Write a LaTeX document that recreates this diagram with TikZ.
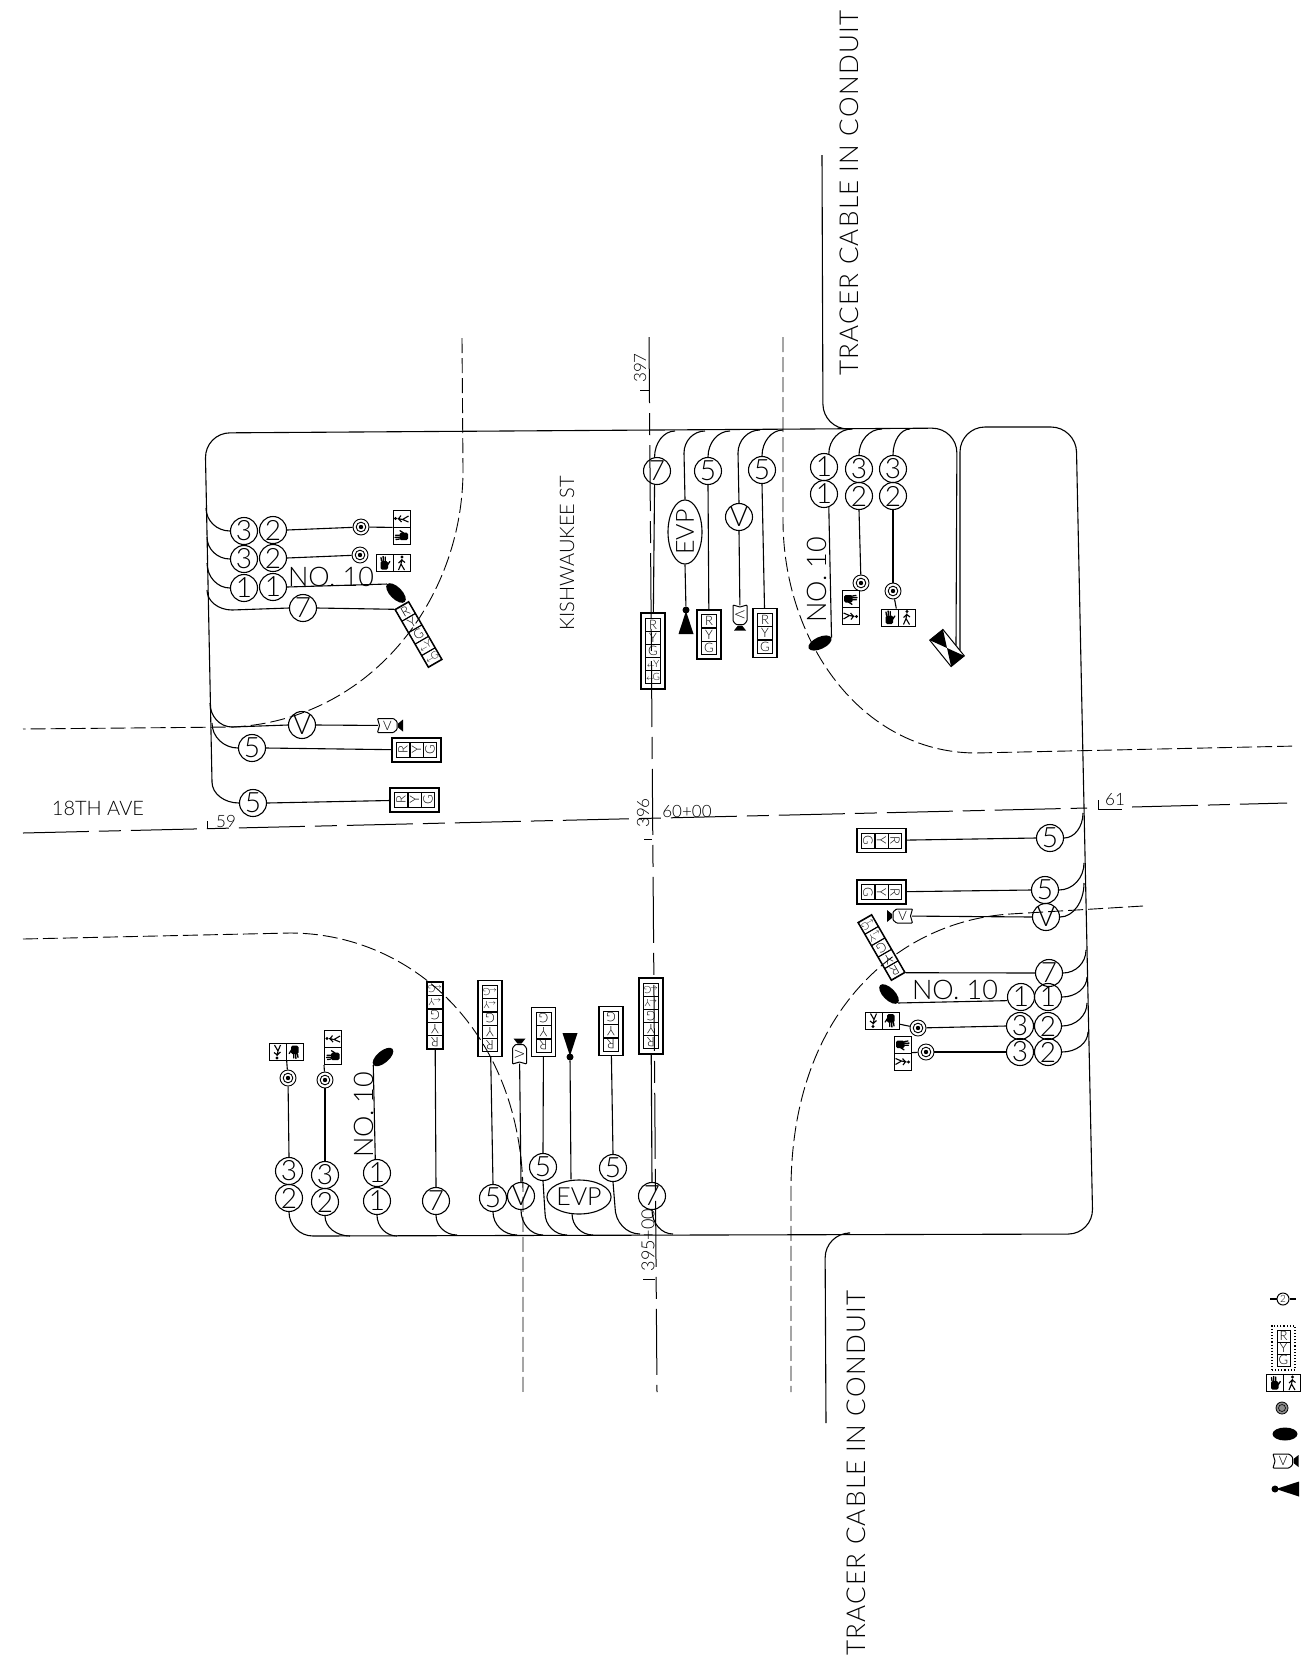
\documentclass[tikz,border=0pt]{standalone}
\usepackage{fontspec}
\setmainfont{Lato}[UprightFont=* Light]
\newfontfamily\widefont{Lato}[UprightFont=* Light,LetterSpace=5]
\usetikzlibrary{calc,shapes.geometric}
\newcommand\fsz[1]{\fontsize{#1}{#1}\selectfont}
\tikzset{
  wire/.style={draw=black,line width=1.1pt},
  roadedge/.style={draw=black,line width=.9pt,dash pattern=on 15pt off 5pt},
  centerline/.style={draw=black,line width=1pt,dash pattern=on 66pt off 10pt on 22pt off 10pt},
  num/.style={circle,draw=black,line width=1.1pt,minimum size=27pt,inner sep=0pt,font=\fsz{28}},
  evp/.style={ellipse,draw=black,line width=1.1pt,minimum width=58pt,minimum height=34pt,inner sep=0pt,font=\fsz{25}},
  lamp/.style={ellipse,fill=black,minimum width=25pt,minimum height=12pt,inner sep=0pt},
  sigouter/.style={rectangle,draw=black,line width=1.1pt,inner sep=0pt},
  cellbox/.style={rectangle,draw=black,line width=.9pt,inner sep=0pt,minimum width=15pt,minimum height=13pt,font=\fsz{13}},
  cellsmall/.style={cellbox,font=\fsz{10}},
  tgtring/.style={circle,draw=black,line width=.9pt,minimum size=16pt,inner sep=0pt},
  evpdot/.style={circle,fill=black,minimum size=7pt,inner sep=0pt},
  cambody/.style={rectangle,minimum width=19pt,minimum height=14pt,inner sep=0pt,font=\fsz{13}},
  pedframe/.style={rectangle,draw=black,line width=1pt,minimum width=34pt,minimum height=17pt,inner sep=0pt},
  lbl/.style={inner sep=0pt,text=black},
}
\newcommand\wireHV[2]{\draw[wire] (#1) .. controls ($(#1)!0.55!(#1 -| #2)$) and ($(#2)!0.55!(#1 -| #2)$) .. (#2);}
\newcommand\wireVH[2]{\draw[wire] (#1) .. controls ($(#1)!0.55!(#1 |- #2)$) and ($(#2)!0.55!(#1 |- #2)$) .. (#2);}
% 3-aspect head in a double frame
\newcommand\sigthree[4]{\begin{scope}[shift={(#2,#3)},rotate=#4,transform shape]
  \node[sigouter,minimum width=24pt,minimum height=49pt] (#1) at (0,0) {};
  \node[cellbox] (#1r) at (0,-13.5) {R};
  \node[cellbox] (#1y) at (0,0) {Y};
  \node[cellbox] (#1g) at (0,13.5) {G};
\end{scope}}
% 5-aspect head; #5 = outer width, #6 = outer height
\newcommand\sigfive[6]{\begin{scope}[shift={(#2,#3)},rotate=#4,transform shape]
  \node[sigouter,minimum width=#5pt,minimum height=#6pt] (#1) at (0,0) {};
  \node[cellbox] (#1r) at (0,-26.4) {R};
  \node[cellbox] (#1y) at (0,-13.2) {Y};
  \node[cellbox] (#1g) at (0,0) {G};
  \node[cellsmall] (#1ly) at (0,13.2) {$\scriptstyle\leftarrow$\kern-1.5pt Y};
  \node[cellsmall] (#1lg) at (0,26.4) {$\scriptstyle\leftarrow$\kern-1.5pt G};
\end{scope}}
\newcommand\pedbox[4]{\begin{scope}[shift={(#2,#3)},rotate=#4,transform shape]
  \node[pedframe] (#1) at (0,0) {};
  \draw[line width=1pt] (0,-8.5) -- (0,8.5);
  \fill[rounded corners=1.5pt] (-12.5,-2) rectangle (-5,6.5);
  \draw[line width=1.3pt,line cap=round] (-11.5,-2) -- (-12,-5.5) (-9.7,-2) -- (-9.9,-6.5) (-7.7,-2) -- (-7.7,-6) (-5.5,2) -- (-3.2,-1.5);
  \fill (9,-6) circle (1.6);
  \draw[line width=1.1pt] (9,-4) -- (8,1) -- (5.5,7) (8,1) -- (11.5,7) (5.5,0) -- (8.7,-3) -- (12,-.5);
\end{scope}}
\newcommand\camicon[4]{\begin{scope}[shift={(#2,#3)},#4,transform shape]
  \node[cambody] (#1) at (0,0) {V};
  \draw[line width=1pt,rounded corners=.8pt] (-10,-7) -- (6,-7) -- (9.5,-4) -- (9.5,4) -- (6,7) -- (-10,7) -- (-8,0) -- cycle;
  \fill (10.5,-2) -- (15.5,-6) -- (15.5,6) -- (10.5,2) -- cycle;
\end{scope}}
\newcommand\evpicon[4]{\begin{scope}[shift={(#2,#3)},rotate=#4,transform shape]
  \node[evpdot] (#1) at (0,0) {};
  \fill (1,0) -- (24,-7.5) -- (24,7.5) -- cycle;
\end{scope}}
\newcommand\tgt[3]{\node[tgtring] (#1) at (#2,#3) {};
  \draw[line width=.9pt] (#1) circle (4.8);
  \fill (#1) circle (2.2);}
\newcommand\tap[3]{\coordinate (#1) at (#2,#3);}
\begin{document}
\begin{tikzpicture}[x=1pt,y=-1pt]
\path[use as bounding box] (0,0) rectangle (1306,1668);

% road edges
\draw[roadedge] (462,338) -- (463,470) .. controls (463,600) and (370,720) .. (233,727) -- (23,729);
\draw[roadedge] (783,337) -- (783,520) .. controls (783,640) and (860,752) .. (975,753) -- (1297,746);
\draw[roadedge] (23,939) -- (290,933) .. controls (410,933) and (520,1030) .. (523,1190) -- (523,1392);
\draw[roadedge] (1143,906) -- (1010,914) .. controls (900,921) and (791,1010) .. (791,1190) -- (791,1392);
% centre lines
\draw[centerline] (23,833) -- (1087,808);
\draw[centerline] (1132,807) -- (1287,803);
\draw[centerline] (649,337) -- (657,1392);
\draw[line width=.8pt] (207,829) -- (207,821);
\draw[line width=.8pt] (640,390) -- (649,390);
\draw[line width=.8pt] (644,839) -- (652,839);
\draw[line width=.8pt] (643,1279) -- (655,1279);
\draw[line width=.8pt] (1098,800) -- (1098,809) -- (1122,809);

% labels
\node[lbl,font=\fsz{20}] (lave) at (98,808) {18TH AVE};
\node[lbl,font=\fsz{17}] (l59) at (226,821) {59};
\node[lbl,font=\fsz{17}] (l6000) at (687,811) {60+00};
\node[lbl,font=\fsz{17}] (l61) at (1115,800) {61};
\node[lbl,font=\fsz{17},rotate=90] (l396) at (643,813) {396};
\node[lbl,font=\fsz{17},rotate=90] (l397) at (640,368) {397};
\node[lbl,font=\fsz{18},rotate=90] (l395) at (648,1240) {395+00};
\node[lbl,font=\fsz{20},rotate=90] (lkish) at (567,553) {KISHWAUKEE ST};
\node[lbl,font=\widefont\fsz{26},rotate=90] (ltr1) at (849,193) {TRACER CABLE IN CONDUIT};
\node[lbl,font=\widefont\fsz{26},rotate=90] (ltr2) at (856,1473) {TRACER CABLE IN CONDUIT};
\node[lbl,font=\fsz{27}] (ln1) at (331,577) {NO. 10};
\node[lbl,font=\fsz{27},rotate=90] (ln2) at (817,580) {NO. 10};
\node[lbl,font=\fsz{27}] (ln3) at (955,990) {NO. 10};
\node[lbl,font=\fsz{27},rotate=90] (ln4) at (364,1115) {NO. 10};

% ---------- top-left corner
\node[num] (tl3a) at (244,531) {3}; \node[num] (tl2a) at (273,530) {2};
\node[num] (tl3b) at (244,559) {3}; \node[num] (tl2b) at (273,558) {2};
\node[num] (tl1a) at (244,588) {1}; \node[num] (tl1b) at (273,587) {1};
\node[num] (tl7) at (303,608) {7};
\node[num] (tlV) at (302,725) {V};
\node[num] (tl5a) at (252,748) {5};
\node[num] (tl5b) at (253,803) {5};
\tgt{tlT1}{361}{527}
\tgt{tlT2}{360}{555}
\pedbox{tlP1}{401.5}{527.5}{90}
\pedbox{tlP2}{393}{563}{0}
\node[lamp,rotate=-45] (tlE) at (396,593) {};
\sigfive{tlS7}{418.5}{634.5}{30}{16}{67}
\camicon{tlC}{387.5}{725.5}{rotate=0}
\sigthree{tlS5a}{416.5}{750}{90}
\sigthree{tlS5b}{414.5}{800}{90}

% ---------- top-right corner
\node[num] (tr7) at (657,471) {7};
\node[evp,rotate=90] (trEVP) at (685,532) {EVP};
\node[num] (tr5a) at (708,471) {5};
\node[num] (trV) at (739,517) {V};
\node[num] (tr5b) at (762,470) {5};
\node[num] (tr1a) at (824,467) {1}; \node[num] (tr1b) at (824,494) {1};
\node[num] (tr3a) at (859,469) {3}; \node[num] (tr2a) at (859,496) {2};
\node[num] (tr3b) at (893,469) {3}; \node[num] (tr2b) at (893,496) {2};
\sigfive{trS7}{653}{651}{0}{24}{76}
\evpicon{trD}{686}{610}{-90}
\sigthree{trS5a}{709}{634.5}{0}
\camicon{trC}{740}{615}{rotate=-90}
\sigthree{trS5b}{765}{633}{0}
\node[lamp,rotate=25] (trE) at (820,643) {};
\tgt{trT1}{861}{583}
\tgt{trT2}{893}{591}
\pedbox{trP1}{850.5}{607.5}{-90}
\pedbox{trP2}{898}{617.5}{0}

% cable box
\begin{scope}[shift={(947,648)},rotate=39,transform shape]
  \node[rectangle,draw=black,line width=1pt,minimum width=17pt,minimum height=34pt,inner sep=0pt] (cab) at (0,0) {};
  \fill (-8.5,-17) -- (8.5,-17) -- (0,0) -- (8.5,17) -- (-8.5,17) -- (0,0) -- cycle;
\end{scope}

% ---------- bottom-right corner
\node[num] (br5a) at (1050,838) {5};
\node[num] (br5b) at (1045,890) {5};
\node[num] (brV) at (1046,917) {V};
\node[num] (br7) at (1049,973) {7};
\node[num] (br1a) at (1021,997) {1}; \node[num] (br1b) at (1048,997) {1};
\node[num] (br3a) at (1020,1026) {3}; \node[num] (br2a) at (1048,1026) {2};
\node[num] (br3b) at (1020,1052) {3}; \node[num] (br2b) at (1048,1052) {2};
\sigthree{brS5a}{881.5}{840.5}{-90}
\sigthree{brS5b}{881.5}{892}{-90}
\camicon{brC}{902.5}{916}{xscale=-1}
\sigfive{brS7}{881.5}{947.5}{210}{16}{67}
\node[lamp,rotate=-45] (brE) at (889,994) {};
\tgt{brT1}{918}{1028}
\tgt{brT2}{926}{1052}
\pedbox{brP1}{882}{1020.5}{180}
\pedbox{brP2}{902.5}{1053}{-90}

% ---------- bottom-left corner
\node[num] (bl3a) at (289,1171) {3}; \node[num] (bl2a) at (289,1198) {2};
\node[num] (bl3b) at (325,1175) {3}; \node[num] (bl2b) at (325,1202) {2};
\node[num] (bl1a) at (377,1173) {1}; \node[num] (bl1b) at (377,1201) {1};
\node[num] (bl7a) at (436,1201) {7};
\node[num] (bl5a) at (493,1198) {5};
\node[num] (blV) at (521,1196) {V};
\node[num] (bl5b) at (543,1167) {5};
\node[evp] (blEVP) at (579,1197) {EVP};
\node[num] (bl5c) at (613,1168) {5};
\node[num] (bl7b) at (652,1196) {7};
\tgt{blT1}{288}{1078}
\tgt{blT2}{325}{1080}
\pedbox{blP1}{286}{1052}{180}
\pedbox{blP2}{333}{1047.5}{90}
\node[lamp,rotate=40] (blE) at (383,1057) {};
\sigfive{blS7a}{435}{1015.5}{180}{16}{67}
\sigfive{blS7b}{490}{1018.5}{180}{24}{76}
\camicon{blC}{519.5}{1054}{rotate=90}
\sigthree{blS5a}{543.5}{1032}{180}
\evpicon{blD}{570}{1057}{90}
\sigthree{blS5b}{611}{1031}{180}
\sigfive{blS7c}{651}{1016}{180}{24}{76}

% ---------- road-side cable
\tap{ca}{956}{645} \tap{cb}{960}{650}
\tap{mA}{212}{782} \tap{mB}{205}{433} \tap{mC}{957}{428}
\tap{nA}{960}{427} \tap{nB}{1076}{427} \tap{nC}{1093}{1234} \tap{nD}{313}{1236}
\draw[wire,rounded corners=25pt] (mA) -- (mB) -- (mC) -- (ca);
\draw[wire,rounded corners=25pt] (cb) -- (nA) -- (nB) -- (nC) -- (nD);
\tap{cA}{822}{155} \tap{cB}{823}{429} \tap{cC}{848}{429}
\draw[wire,rounded corners=25pt] (cA) -- (cB) -- (cC);
\tap{cD}{826}{1423} \tap{cE}{825}{1233} \tap{cF}{848}{1233}
\draw[wire,rounded corners=25pt] (cD) -- (cE) -- (cF);

% ---------- top-left wires
\tap{a1}{206}{508} \wireHV{tl3a.west}{a1}
\tap{a2}{207}{537} \wireHV{tl3b.west}{a2}
\tap{a3}{207}{563} \wireHV{tl1a.west}{a3}
\tap{a4}{207}{590} \tap{k4}{232}{610} \draw[wire] (tl7.west) -- (k4); \wireHV{k4}{a4}
\tap{a5}{210}{703} \tap{k5}{232}{727} \draw[wire] (tlV.west) -- (k5); \wireHV{k5}{a5}
\tap{a6}{212}{723} \wireHV{tl5a.west}{a6}
\wireHV{tl5b.west}{mA}
\draw[wire] (tl2a.east) -- (tlT1); \draw[wire] (tlT1) -- (tlP1);
\draw[wire] (tl2b.east) -- (tlT2);
\draw[wire] (tl1b.east) -- (tlE.west);
\draw[wire] (tl7.east) -- (tlS7.north west);
\draw[wire] (tlV.east) -- (tlC);
\draw[wire] (tl5a.east) -- (tlS5a);
\draw[wire] (tl5b.east) -- (tlS5b);

% ---------- top-right wires
\tap{b1}{675}{431} \wireVH{tr7.100}{b1}
\tap{b2}{705}{431} \tap{q2}{684}{453} \draw[wire] (trEVP.east) -- (q2); \wireVH{q2}{b2}
\tap{b3}{730}{431} \wireVH{tr5a.north}{b3}
\tap{b4}{760}{430} \tap{q4}{738}{453} \draw[wire] (trV.north) -- (q4); \wireVH{q4}{b4}
\tap{b5}{783}{430} \wireVH{tr5b.north}{b5}
\tap{b6}{852}{429} \wireVH{tr1a.70}{b6}
\tap{b7}{882}{429} \wireVH{tr3a.north}{b7}
\tap{b8}{910}{429} \wireVH{tr3b.north}{b8}
\draw[wire] (tr7.-100) -- (trS7);
\draw[wire] (trEVP.west) -- (trD);
\draw[wire] (tr5a.south) -- (trS5a);
\draw[wire] (trV.south) -- (trC);
\draw[wire] (tr5b.south) -- (trS5b);
\draw[wire] (tr1b.-70) -- (trE.east);
\draw[wire] (tr2a.south) -- (trT1); \draw[wire] (trT1) -- (trP1);
\draw[wire] (tr2b.south) -- (trT2); \draw[wire] (trT2) -- (trP2);

% ---------- bottom-right wires
\tap{d1}{1083}{813} \wireHV{br5a.east}{d1}
\tap{d2}{1084}{863} \wireHV{br5b.east}{d2}
\tap{d3}{1084}{883} \wireHV{brV.east}{d3}
\tap{d4}{1086}{950} \wireHV{br7.east}{d4}
\tap{d5}{1087}{977} \wireHV{br1b.east}{d5}
\tap{d6}{1087}{1003} \wireHV{br2a.east}{d6}
\tap{d7}{1088}{1032} \wireHV{br2b.east}{d7}
\draw[wire] (br5a.west) -- (brS5a);
\draw[wire] (br5b.west) -- (brS5b);
\draw[wire] (brV.west) -- (brC);
\draw[wire] (br7.west) -- (brS7.north west);
\draw[wire] (br1a.-165) -- (brE.east);
\draw[wire] (br3a.west) -- (brT1); \draw[wire] (brT1) -- (brP1);
\draw[wire] (br3b.west) -- (brT2); \draw[wire] (brT2) -- (brP2);

% ---------- bottom-left wires
\wireVH{bl2a.south}{nD}
\tap{e1}{350}{1236} \wireVH{bl2b.south}{e1}
\tap{e2}{397}{1236} \wireVH{bl1b.south}{e2}
\tap{e3}{457}{1235} \wireVH{bl7a.south}{e3}
\tap{e4}{517}{1235} \wireVH{bl5a.south}{e4}
\tap{e5}{543}{1235} \wireVH{blV.south}{e5}
\tap{e6}{567}{1235} \tap{g6}{545}{1213} \draw[wire] (bl5b.south) -- (g6); \wireVH{g6}{e6}
\tap{e7}{593}{1235} \wireVH{blEVP.-112}{e7}
\tap{e8}{640}{1234} \tap{g8}{615}{1207} \draw[wire] (bl5c.south) -- (g8); \wireVH{g8}{e8}
\tap{e9}{673}{1234} \wireVH{bl7b.south}{e9}
\draw[wire] (bl3a.north) -- (blT1); \draw[wire] (blT1) -- (blP1);
\draw[wire] (bl3b.north) -- (blT2); \draw[wire] (blT2) -- (blP2.north west);
\draw[wire] (bl1a.97) -- (blE.west);
\draw[wire] (bl7a.north) -- (blS7a);
\draw[wire] (bl5a.north) -- (blS7b);
\draw[wire] (blV.north) -- (blC);
\draw[wire] (bl5b.north) -- (blS5a);
\draw[wire] (blEVP.north) ++(-8,0) coordinate (g7) (g7) -- (blD);
\draw[wire] (bl5c.north) -- (blS5b);
\draw[wire] (bl7b.north) -- (blS7c);

% ---------- legend
\node[circle,draw=black,line width=1pt,minimum size=12pt,inner sep=0pt,font=\fsz{10}] (lg2) at (1283,1299) {2};
\tap{lgL}{1270}{1299} \tap{lgR}{1296}{1299}
\draw[wire] (lgL) -- (lg2); \draw[wire] (lg2) -- (lgR);
\begin{scope}[shift={(1283.5,1348)}]
  \node[sigouter,dotted,minimum width=23pt,minimum height=44pt] (lgS) at (0,0) {};
  \node[cellbox,minimum width=13pt,minimum height=12pt] (lgSr) at (0,-12) {R};
  \node[cellbox,minimum width=13pt,minimum height=12pt] (lgSy) at (0,0) {Y};
  \node[cellbox,minimum width=13pt,minimum height=12pt] (lgSg) at (0,12) {G};
\end{scope}
\pedbox{lgP}{1283.5}{1383}{0}
\node[circle,draw=black,line width=.8pt,fill=black!45,minimum size=12pt,inner sep=0pt] (lgT) at (1282,1408) {};
\draw[line width=.6pt] (lgT) circle (3.5);
\node[lamp,minimum height=13pt] (lgE) at (1285,1434) {};
\camicon{lgC}{1283}{1461}{rotate=0}
\evpicon{lgD}{1275}{1489}{0}
\end{tikzpicture}
\end{document}
